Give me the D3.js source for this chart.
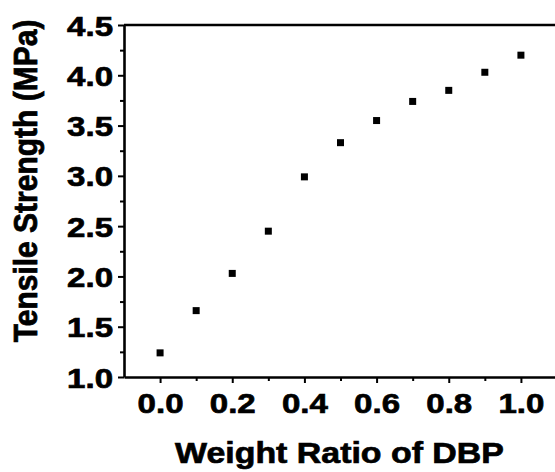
<!DOCTYPE html>
<html>
<head>
<meta charset="utf-8">
<script src="https://cdn.jsdelivr.net/npm/d3@7"></script>
<style>
  body { margin: 0; background: #fff; }
  svg { display: block; font-family: "Liberation Sans", Arial, sans-serif; font-weight: bold; }
  svg text { stroke: #000; stroke-width: 0.7px; }
</style>
</head>
<body>
<div id="chart"></div>
<script>
var ratio = [0.0, 0.1, 0.2, 0.3, 0.4, 0.5, 0.6, 0.7, 0.8, 0.9, 1.0];
var strength = [1.24, 1.66, 2.03, 2.45, 2.99, 3.33, 3.55, 3.74, 3.85, 4.03, 4.20];
var xTicks = [0.0, 0.2, 0.4, 0.6, 0.8, 1.0];
var xMinor = [0.1, 0.3, 0.5, 0.7, 0.9];
var yTicks = [1.0, 1.5, 2.0, 2.5, 3.0, 3.5, 4.0, 4.5];
var yMinor = [1.25, 1.75, 2.25, 2.75, 3.25, 3.75, 4.25];

var width = 555, height = 472;
var plotLeft = 124, plotRight = 557, plotTop = 25, plotBottom = 377;
var sx = 1.18; // labels look stretched sideways

var x = d3.scaleLinear().domain([-0.1, 1.1]).range([plotLeft, plotRight]);
var y = d3.scaleLinear().domain([1.0, 4.5]).range([plotBottom, plotTop]);

var svg = d3.select("#chart").append("svg")
    .attr("width", width)
    .attr("height", height);

// frame top line
svg.append("line")
    .attr("x1", plotLeft).attr("x2", plotRight)
    .attr("y1", plotTop).attr("y2", plotTop)
    .attr("stroke", "#000").attr("stroke-width", 2.6);

// minor ticks
svg.append("g")
    .attr("transform", `translate(0,${plotBottom})`)
    .call(d3.axisBottom(x).tickValues(xMinor).tickSize(4).tickFormat(""))
    .call(g => g.select(".domain").remove())
    .selectAll("line").attr("stroke-width", 2);
svg.append("g")
    .attr("transform", `translate(${plotLeft},0)`)
    .call(d3.axisLeft(y).tickValues(yMinor).tickSize(4).tickFormat(""))
    .call(g => g.select(".domain").remove())
    .selectAll("line").attr("stroke-width", 2);

// major x axis
var gx = svg.append("g")
    .attr("transform", `translate(0,${plotBottom})`)
    .call(d3.axisBottom(x).tickValues(xTicks).tickSize(6).tickSizeOuter(0).tickPadding(10)
        .tickFormat(d3.format(".1f")));
gx.select(".domain").attr("stroke-width", 2.6);
gx.selectAll(".tick line").attr("stroke-width", 2);
gx.selectAll(".tick text")
    .attr("font-size", 28).attr("font-family", "Liberation Sans, Arial, sans-serif").attr("font-weight", "bold")
    .attr("fill", "#000")
    .attr("transform", `scale(${sx},1)`);

// major y axis
var gy = svg.append("g")
    .attr("transform", `translate(${plotLeft},0)`)
    .call(d3.axisLeft(y).tickValues(yTicks).tickSize(6).tickSizeOuter(0).tickPadding(5)
        .tickFormat(d3.format(".1f")));
gy.select(".domain").attr("stroke-width", 2.6);
gy.selectAll(".tick line").attr("stroke-width", 2);
gy.selectAll(".tick text")
    .attr("font-size", 28).attr("font-family", "Liberation Sans, Arial, sans-serif").attr("font-weight", "bold")
    .attr("fill", "#000")
    .attr("dy", "0.36em")
    .attr("transform", function () {
        var tx = -11;
        return `translate(${tx},0) scale(${sx},1) translate(${-tx},0)`;
    });

// points
svg.append("g")
    .selectAll("rect")
    .data(ratio.map((r, i) => [r, strength[i]]))
    .enter().append("rect")
    .attr("x", d => x(d[0]) - 3.5)
    .attr("y", d => y(d[1]) - 3.5)
    .attr("width", 7)
    .attr("height", 7)
    .attr("fill", "#000");

// axis titles
svg.append("text")
    .attr("transform", `translate(${(plotLeft + plotRight) / 2 - 1},463) scale(1.13,1)`)
    .attr("text-anchor", "middle")
    .attr("font-size", 30)
    .text("Weight Ratio of DBP");

svg.append("text")
    .attr("transform", `translate(37,181) scale(1.13,1) rotate(-90)`)
    .attr("text-anchor", "middle")
    .attr("font-size", 30)
    .text("Tensile Strength (MPa)");
</script>
</body>
</html>
